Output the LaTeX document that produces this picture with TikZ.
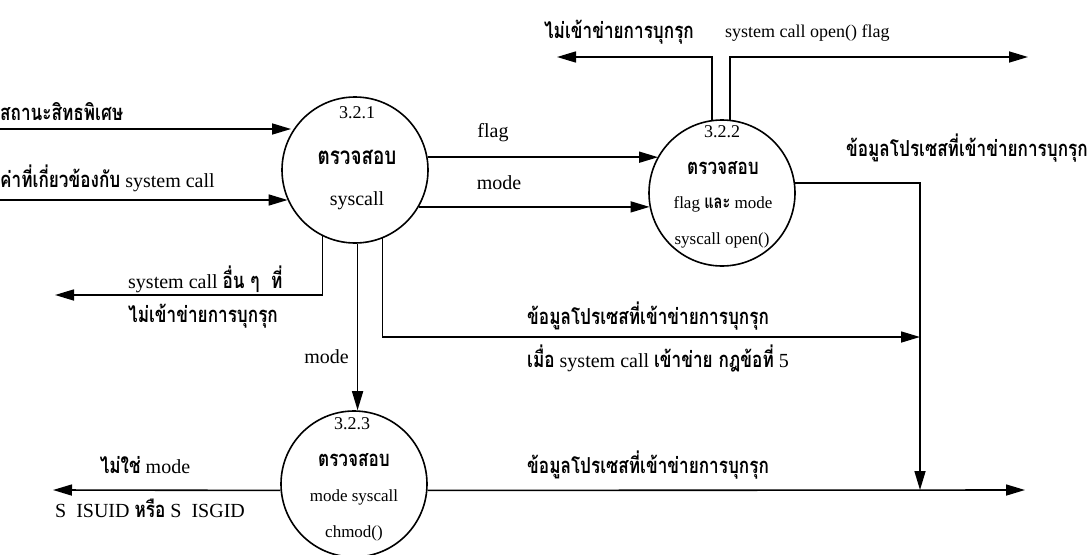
\documentclass[tikz,border=0pt]{standalone}
\usepackage{fontspec}
\setmainfont{Liberation Serif}
\newfontfamily\thfont[Script=Thai,Scale=1.1,FakeStretch=0.78]{Loma}
\newcommand{\thb}[1]{{\thfont\bfseries #1}}
\usetikzlibrary{arrows.meta}

\begin{document}
\begin{tikzpicture}
        [x=1pt, y=-1pt,
        proc/.style={circle, draw, line width=1.6pt, minimum size=146pt, inner sep=0pt},
        flow/.style={line width=1.6pt, -{Triangle[length=19pt, width=11pt]}},
        txt/.style={font=\fontsize{20}{22}\selectfont, inner sep=0pt},
        intxt/.style={font=\fontsize{17}{19}\selectfont, inner sep=0pt},
        inth/.style={font=\fontsize{20}{22}\selectfont, inner sep=0pt},
        num/.style={font=\fontsize{18}{20}\selectfont, inner sep=0pt}]

        \useasboundingbox (0,0) rectangle (1089,554);

        % processes
        \node[proc] (p1) at (355,170) {};
        \node[proc] (p2) at (722,193) {};
        \node[proc] (p3) at (354,484) {};

        \node[num] at (357,113) {3.2.1};
        \node[inth, font=\fontsize{22}{24}\selectfont] at (357,157) {\thb{ตรวจสอบ}};
        \node[intxt, font=\fontsize{20}{22}\selectfont] at (357,201) {syscall};

        \node[num] at (722,132) {3.2.2};
        \node[inth] at (723,168) {\thb{ตรวจสอบ}};
        \node[intxt] at (723,204) {flag \thb{และ} mode};
        \node[intxt] at (722,240) {syscall open()};

        \node[num] at (352,424) {3.2.3};
        \node[inth] at (354,460) {\thb{ตรวจสอบ}};
        \node[intxt] at (354,497) {mode syscall};
        \node[intxt] at (354,533) {chmod()};

        % free ends and corners
        \coordinate (src1) at (0,129);
        \coordinate (src2) at (0,200);
        \coordinate (nin) at (557,57);
        \coordinate (sco) at (1028,57);
        \coordinate (oth) at (55,295);
        \coordinate (rule) at (920,337);
        \coordinate (join) at (920,490);
        \coordinate (nm) at (53,490);
        \coordinate (sink) at (1025,490);

        % flows into and between the processes
        \draw[flow] (src1) -- (src1 -| p1.150);
        \draw[flow] (src2) -- (src2 -| p1.204);
        \draw[flow] (p1.10) -- (p1.10 -| p2.150);
        \draw[flow] (p1.-30) -- (p1.-30 -| p2.191);
        \draw[flow] (p1.272) -- (p1.272 |- p3.north);

        % flows out
        \draw[flow] (p2.98) |- (nin);
        \draw[flow] (p2.84) |- (sco);
        \draw[flow] (p2.8) -| (join);
        \draw[flow] (p1.244) |- (oth);
        \draw[flow] (p1.-68) |- (rule);
        \draw[flow] (p3.185) -- (nm);
        \draw[flow] (p3.-5) -- (sink);

        % labels
        \node[txt, anchor=west] at (0,112) {\thb{สถานะสิทธพิเศษ}};
        \node[txt, anchor=west] at (0,178) {\thb{ค่าที่เกี่ยวข้องกับ} system call};
        \node[txt] at (493,133) {flag};
        \node[txt] at (499,183) {mode};
        \node[txt] at (619,32) {\thb{ไม่เข้าข่ายการบุกรุก}};
        \node[txt, font=\fontsize{18}{20}\selectfont, anchor=west] at (725,33) {system call open() flag};
        \node[txt, anchor=east] at (1088,148) {\thb{ข้อมูลโปรเซสที่เข้าข่ายการบุกรุก}};
        \node[txt, anchor=west] at (128,279) {system call \thb{อื่น ๆ \ ที่}};
        \node[txt, anchor=west] at (128,316) {\thb{ไม่เข้าข่ายการบุกรุก}};
        \node[txt, anchor=east] at (349,357) {mode};
        \node[txt, anchor=west] at (527,316) {\thb{ข้อมูลโปรเซสที่เข้าข่ายการบุกรุก}};
        \node[txt, anchor=west] at (527,358) {\thb{เมื่อ} system call \thb{เข้าข่าย กฎข้อที่} 5};
        \node[txt] at (145,465) {\thb{ไม่ใช่} mode};
        \node[txt] at (150,508) {S\ \ ISUID \thb{หรือ} S\ \ ISGID};
        \node[txt, anchor=west] at (527,465) {\thb{ข้อมูลโปรเซสที่เข้าข่ายการบุกรุก}};

    \end{tikzpicture}
\end{document}
